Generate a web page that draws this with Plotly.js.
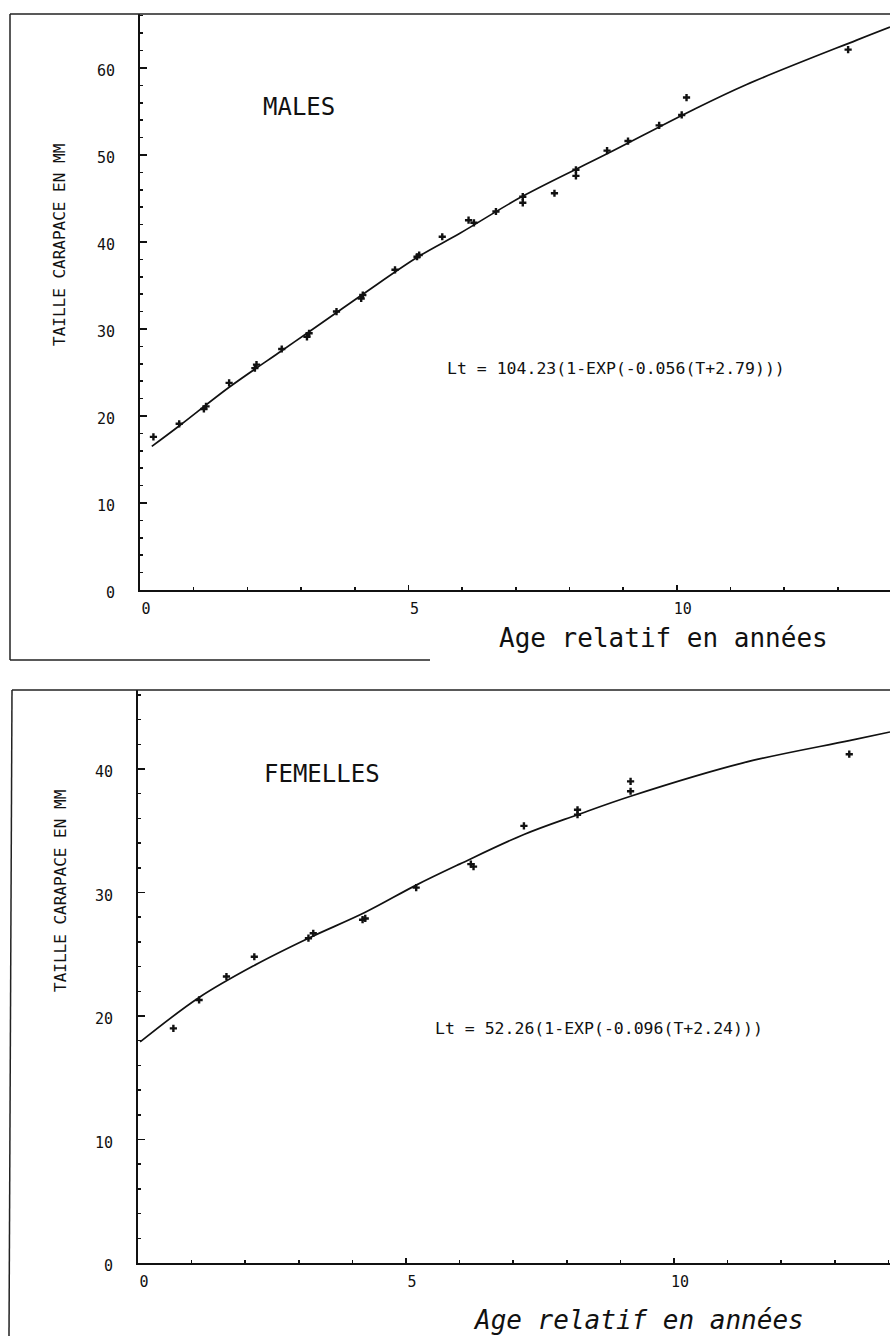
<!DOCTYPE html>
<html>
<head>
<meta charset="utf-8">
<script src="https://cdn.plot.ly/plotly-3.0.1.min.js"></script>
<style>
  html, body { margin: 0; padding: 0; background: #fff; }
  #chart { width: 890px; height: 1336px; }
</style>
</head>
<body>
<div id="chart"></div>
<script>
// ---------- DATA ----------
// MALES: observed points (age relatif, taille carapace mm)
const malesAge = [0.25, 0.73, 1.19, 1.23, 1.66, 2.14, 2.17, 2.64, 3.11, 3.15, 3.66, 4.12, 4.15, 4.75, 5.16, 5.20, 5.63,
                  6.12, 6.22, 6.63, 7.13, 7.13, 7.72, 8.12, 8.12, 8.70, 9.09, 9.67, 10.09, 10.18, 13.19];
const malesSize = [17.6, 19.1, 20.8, 21.1, 23.8, 25.5, 25.9, 27.7, 29.1, 29.5, 32.0, 33.5, 33.9, 36.8, 38.3, 38.5, 40.6,
                   42.5, 42.2, 43.5, 45.2, 44.5, 45.6, 48.3, 47.6, 50.5, 51.6, 53.4, 54.6, 56.6, 62.1];
// MALES: fitted curve as drawn
const malesCurveAge  = [0.22, 0.74, 1.66, 2.64, 3.13, 4.13, 5.18, 5.96, 7.14, 8.69, 10.24, 11.30, 13.35, 13.97];
const malesCurveSize = [16.5, 18.9, 23.3, 27.5, 29.6, 33.9, 38.3, 41.0, 45.3, 50.1, 55.0, 58.1, 63.2, 64.7];

// FEMELLES: observed points
const femAge  = [0.66, 1.14, 1.65, 2.17, 3.18, 3.27, 4.19, 4.24, 5.19, 6.21, 6.26, 7.20, 8.20, 8.20, 9.19, 9.19, 13.27];
const femSize = [19.0, 21.3, 23.2, 24.8, 26.3, 26.7, 27.8, 27.9, 30.4, 32.3, 32.1, 35.4, 36.7, 36.3, 39.0, 38.2, 41.2];
// FEMELLES: fitted curve as drawn
const femCurveAge  = [0.04, 1.14, 2.17, 3.18, 4.24, 5.19, 6.00, 7.20, 8.20, 9.19, 11.29, 13.27, 14.03];
const femCurveSize = [17.9, 21.5, 24.1, 26.3, 28.4, 30.6, 32.3, 34.7, 36.3, 37.8, 40.5, 42.3, 43.0];

// Texts
const titleMales = "MALES";
const titleFemelles = "FEMELLES";
const eqMales = "Lt = 104.23(1-EXP(-0.056(T+2.79)))";
const eqFemelles = "Lt = 52.26(1-EXP(-0.096(T+2.24)))";
const xTitle = "Age relatif en années";
const yTitle = "TAILLE CARAPACE EN MM";

// ---------- LAYOUT ----------
const W = 890, H = 1336;
const px = v => v / W;          // pixel x -> paper
const py = v => 1 - v / H;      // pixel y -> paper
const FONT = "DejaVu Sans Mono";
const INK = "#111";

const markerStyle = { symbol: "cross", size: 6, color: INK };
const lineStyle = { color: INK, width: 1.7, shape: "spline", smoothing: 1 };

const traces = [
  { x: malesCurveAge, y: malesCurveSize, mode: "lines", line: lineStyle, xaxis: "x", yaxis: "y", hoverinfo: "skip" },
  { x: malesAge, y: malesSize, mode: "markers", marker: markerStyle, xaxis: "x", yaxis: "y" },
  { x: femCurveAge, y: femCurveSize, mode: "lines", line: lineStyle, xaxis: "x2", yaxis: "y2", hoverinfo: "skip" },
  { x: femAge, y: femSize, mode: "markers", marker: markerStyle, xaxis: "x2", yaxis: "y2" }
];

function xAxis(domain, range, anchor) {
  return {
    domain, range, anchor,
    showline: true, linewidth: 2, linecolor: INK,
    showgrid: false, zeroline: false,
    ticks: "inside", ticklen: 5, tickwidth: 1.5, tickcolor: INK,
    tickmode: "linear", tick0: 0, dtick: 5,
    minor: { ticks: "inside", ticklen: 3, tickwidth: 1.5, tickcolor: INK, dtick: 1, showgrid: false },
    tickfont: { family: FONT, size: 15, color: INK },
    ticklabelstandoff: 4, ticklabelshift: 6,
    fixedrange: true
  };
}
function yAxis(domain, range, anchor) {
  return {
    domain, range, anchor,
    showline: true, linewidth: 2, linecolor: INK,
    showgrid: false, zeroline: false,
    ticks: "inside", ticklen: 7, tickwidth: 1.5, tickcolor: INK,
    tickmode: "linear", tick0: 0, dtick: 10,
    minor: { ticks: "inside", ticklen: 3, tickwidth: 1.5, tickcolor: INK, dtick: 2, showgrid: false },
    tickfont: { family: FONT, size: 15, color: INK },
    ticklabelstandoff: 20, ticklabelshift: 3,
    fixedrange: true
  };
}

const frameLine = { color: "#222", width: 1.5 };
const shapes = [
  // top panel frame
  { type: "line", xref: "paper", yref: "paper", x0: px(10), x1: px(10), y0: py(14), y1: py(660), line: frameLine },
  { type: "line", xref: "paper", yref: "paper", x0: px(10), x1: 1, y0: py(14), y1: py(14), line: frameLine },
  { type: "line", xref: "paper", yref: "paper", x0: px(10), x1: px(430), y0: py(660), y1: py(660), line: frameLine },
  // bottom panel frame
  { type: "line", xref: "paper", yref: "paper", x0: px(12), x1: 1, y0: py(690), y1: py(690), line: frameLine },
  { type: "line", xref: "paper", yref: "paper", x0: px(12), x1: px(9), y0: py(690), y1: 0, line: frameLine }
];

const ann = (text, x, y, size, opts) => Object.assign({
  text, xref: "paper", yref: "paper", x: px(x), y: py(y),
  xanchor: "center", yanchor: "middle", showarrow: false,
  font: { family: FONT, size, color: INK }
}, opts || {});

const annotations = [
  ann(titleMales, 299, 107, 24),
  ann(titleFemelles, 322, 774, 24),
  ann(eqMales, 445, 369, 16.5, { xanchor: "left" }),
  ann(eqFemelles, 433, 1028, 16.5, { xanchor: "left" }),
  ann(xTitle, 663, 638, 26),
  ann(xTitle, 638, 1320, 26, { font: { family: FONT, size: 26, color: INK, style: "italic" } }),
  ann(yTitle, 59, 245, 16, { textangle: -90 }),
  ann(yTitle, 60, 891, 16, { textangle: -90 })
];

const layout = {
  width: W, height: H,
  margin: { l: 0, r: 0, t: 0, b: 0 },
  paper_bgcolor: "#fff", plot_bgcolor: "#fff",
  showlegend: false,
  xaxis: xAxis([px(140), 1], [0, 13.97], "y"),
  yaxis: yAxis([py(590), py(14)], [0, 66.2], "x"),
  xaxis2: xAxis([px(138), 1], [0, 14.03], "y2"),
  yaxis2: yAxis([py(1263), py(690)], [0, 46.4], "x2"),
  shapes, annotations
};

Plotly.newPlot("chart", traces, layout, { displayModeBar: false, staticPlot: true });
</script>
</body>
</html>
